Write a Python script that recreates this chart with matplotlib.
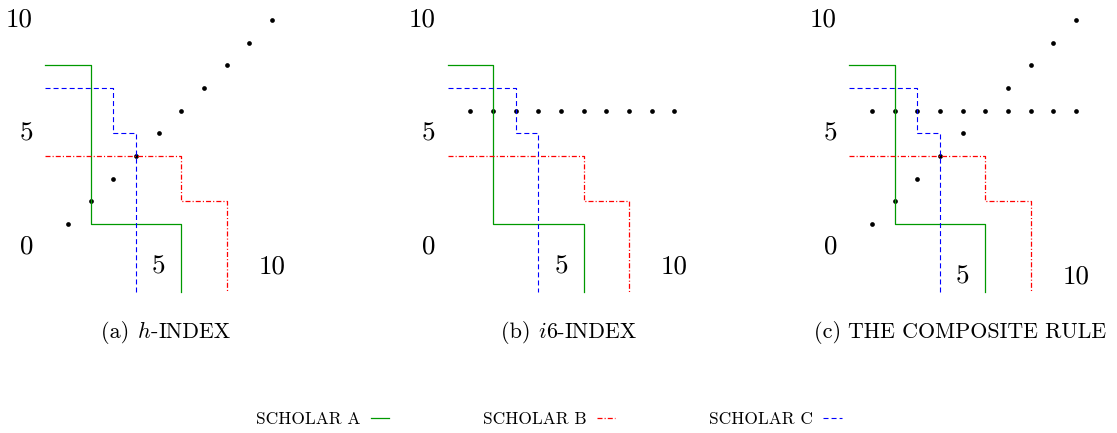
import matplotlib
matplotlib.use("Agg")
import matplotlib.pyplot as plt
from matplotlib.lines import Line2D

plt.rcParams['mathtext.fontset'] = 'cm'
plt.rcParams['font.family'] = ['cmr10', 'DejaVu Serif']
plt.rcParams['axes.formatter.use_mathtext'] = True
plt.rcParams['lines.scale_dashes'] = False

# ---- data ----
scholar_a_x = [0, 2, 2, 6, 6]
scholar_a_y = [8, 8, 1, 1, -2]
scholar_b_x = [0, 6, 6, 8, 8]
scholar_b_y = [4, 4, 2, 2, -2]
scholar_c_x = [0, 3, 3, 4, 4]
scholar_c_y = [7, 7, 5, 5, -2]

h_x = [1, 2, 3, 4, 5, 6, 7, 8, 9, 10]
h_y = [1, 2, 3, 4, 5, 6, 7, 8, 9, 10]
i6_x = [1, 2, 3, 4, 5, 6, 7, 8, 9, 10]
i6_y = [6, 6, 6, 6, 6, 6, 6, 6, 6, 6]
comp_x = [1, 2, 3, 4, 5, 7, 8, 9, 10, 1, 2, 3, 4, 5, 6, 7, 8, 9, 10]
comp_y = [1, 2, 3, 4, 5, 7, 8, 9, 10, 6, 6, 6, 6, 6, 6, 6, 6, 6, 6]

y_ticks = [0, 5, 10]
x_ticks = [5, 10]
legend_labels = ["SCHOLAR A", "SCHOLAR B", "SCHOLAR C"]

W, H = 1117, 433
fig = plt.figure(figsize=(W / 100, H / 100), dpi=100)

u = 22.67
origins = [45.3, 447.7, 849.3]
y0_top = 246.7
xlo, xhi, ylo, yhi = -2.0, 11.5, -3.5, 11.0
xlab_y = [-0.9, -0.9, -1.34]

green = (0, 0.6, 0)
red = (1, 0, 0)
blue = (0, 0, 1)

points = [(h_x, h_y), (i6_x, i6_y), (comp_x, comp_y)]
axes = []
for k, x0 in enumerate(origins):
    left = x0 + xlo * u
    bottom = (H - y0_top) + ylo * u
    ax = fig.add_axes([left / W, bottom / H, (xhi - xlo) * u / W, (yhi - ylo) * u / H])
    ax.set_xlim(xlo, xhi)
    ax.set_ylim(ylo, yhi)
    ax.axis('off')
    px, py = points[k]
    ax.plot(px, py, 'o', color='black', ms=3.4, mew=0, zorder=1)
    ax.plot(scholar_a_x, scholar_a_y, color=green, lw=0.9, zorder=2)
    ax.plot(scholar_b_x, scholar_b_y, color=red, lw=0.9,
            dashes=(3.6, 1.5, 0.8, 1.5), zorder=2)
    ax.plot(scholar_c_x, scholar_c_y, color=blue, lw=0.8,
            dashes=(3.6, 2.2), zorder=2)
    for t in y_ticks:
        ax.text(-0.54, t, str(t), ha='right', va='center', fontsize=19.5,
                clip_on=False)
    for t in x_ticks:
        ax.text(t, xlab_y[k], str(t), ha='center', va='center', fontsize=19.5,
                clip_on=False)
    axes.append(ax)

fig.canvas.draw()
renderer = fig.canvas.get_renderer()


def draw_pieces(cx_px, cy_px, pieces):
    texts = []
    for s, fs in pieces:
        t = fig.text(0, 0, s, fontsize=fs, ha='left', va='baseline')
        texts.append(t)
    widths = [t.get_window_extent(renderer).width for t in texts]
    total = sum(widths)
    x = cx_px - total / 2
    for t, w in zip(texts, widths):
        t.set_position((x / W, (H - cy_px) / H))
        x += w


cap_fs = 16.0
sc_fs = 15.8
base_y = 337.5
draw_pieces(166, base_y, [("(a) ", cap_fs), (r"$h$", cap_fs), ("-", cap_fs), ("INDEX", sc_fs)])
draw_pieces(569, base_y, [("(b) ", cap_fs), (r"$i$", cap_fs), ("6-", cap_fs), ("INDEX", sc_fs)])
draw_pieces(960, base_y, [("(c) ", cap_fs), ("THE COMPOSITE RULE", sc_fs)])

handles = [
    Line2D([], [], color=green, lw=0.9),
    Line2D([], [], color=red, lw=0.9, dashes=(3.6, 1.5, 0.8, 1.5)),
    Line2D([], [], color=blue, lw=0.8, dashes=(3.6, 2.2)),
]
fig.legend(handles, legend_labels, loc='center', bbox_to_anchor=(549 / W, (H - 419) / H),
           ncol=3, frameon=False, markerfirst=False, fontsize=12.5,
           handlelength=1.05, handletextpad=0.6, columnspacing=5.4,
           borderpad=0, borderaxespad=0)

fig.savefig("out.png", dpi=100)
